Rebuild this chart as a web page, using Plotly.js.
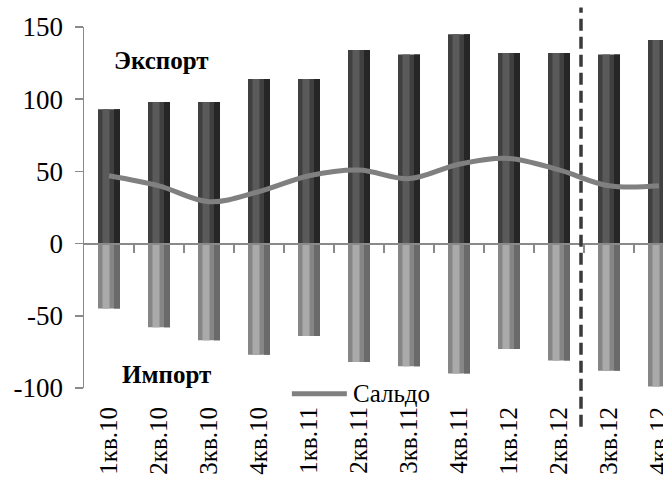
<!DOCTYPE html>
<html><head><meta charset="utf-8">
<script src="https://cdn.plot.ly/plotly-3.0.1.min.js"></script>
<style>html,body{margin:0;padding:0;background:#fff}</style>
</head><body><div id="chart" style="width:663px;height:482px"></div>
<script>
const categories = ['1кв.10','2кв.10','3кв.10','4кв.10','1кв.11','2кв.11','3кв.11','4кв.11','1кв.12','2кв.12','3кв.12','4кв.12'];
const exportValues = [93, 98, 98, 114, 114, 134, 131, 145, 132, 132, 131, 141];
const importValues = [-45, -58, -67, -77, -64, -82, -85, -90, -73, -81, -88, -99];
const saldoValues = [47, 40, 29, 36, 47, 51, 45, 55, 59, 51, 40, 40];
const yTickValues = [-100, -50, 0, 50, 100, 150];
const yTickLabels = yTickValues.map(v => String(v));
const saldoName = 'Сальдо';
const dividerAfter = '2кв.12';

const serif = 'Liberation Serif, Times New Roman, serif';
const yMin = -100, yMax = 150;
const xRange = [-0.5, 11.08];

function layer(values, offset, width, color) {
  return {type: 'bar', x: categories, y: values, offset: offset, width: width,
    marker: {color: color, line: {width: 0}}, showlegend: false, hoverinfo: 'skip'};
}

const traces = [
  layer(exportValues, -0.22, 0.44, '#404040'),
  layer(exportValues, -0.13, 0.14, '#5a5a5a'),
  layer(exportValues, 0.10, 0.12, '#262626'),
  layer(importValues, -0.22, 0.44, '#868686'),
  layer(importValues, -0.13, 0.14, '#aaaaaa'),
  layer(importValues, 0.10, 0.12, '#6a6a6a'),
  {type: 'scatter', mode: 'lines', x: categories, y: saldoValues, name: saldoName, showlegend: false,
    line: {color: '#808080', width: 5, shape: 'spline', smoothing: 1}, hoverinfo: 'skip'},
  {type: 'scatter', mode: 'lines', x: [], y: [], xaxis: 'x2', showlegend: false, hoverinfo: 'skip'}
];

const boundaries = categories.map((c, i) => i + 0.5);
const divX = categories.indexOf(dividerAfter) + 0.44;

const layout = {
  width: 663, height: 482,
  margin: {l: 84, r: 0, t: 27, b: 94, pad: 0},
  paper_bgcolor: '#fff', plot_bgcolor: 'rgba(0,0,0,0)',
  barmode: 'overlay',
  showlegend: false,
  font: {family: serif, color: '#000'},
  xaxis: {type: 'category', range: xRange, showline: false, showgrid: false, zeroline: false,
    ticks: '', tickangle: -90, ticklabelstandoff: 13,
    tickfont: {family: serif, size: 25, color: '#000'}},
  xaxis2: {type: 'linear', overlaying: 'x', anchor: 'free', position: (0 - yMin) / (yMax - yMin),
    range: xRange, showline: true, linecolor: '#8a8a8a', linewidth: 2,
    ticks: 'outside', ticklen: 8, tickwidth: 1.5, tickcolor: '#8a8a8a',
    tickvals: boundaries, showticklabels: false, showgrid: false, zeroline: false},
  yaxis: {range: [yMin, yMax], tickvals: yTickValues, ticktext: yTickLabels,
    showline: true, linecolor: '#8a8a8a', linewidth: 1.5,
    ticks: 'outside', ticklen: 8, tickwidth: 1.5, tickcolor: '#8a8a8a', ticklabelstandoff: 6,
    showgrid: false, zeroline: false, tickfont: {family: serif, size: 27, color: '#000'}},
  shapes: [
    {type: 'line', xref: 'x', yref: 'paper', x0: divX, x1: divX, y0: -0.107, y1: 1.054,
      line: {color: '#3a3a3a', width: 3.5, dash: '12px,6px'}, layer: 'above'},
    {type: 'line', xref: 'paper', yref: 'paper', x0: 0.359, x1: 0.454, y0: -0.016, y1: -0.016,
      line: {color: '#808080', width: 5}}
  ],
  annotations: [
    {text: '<b>Экспорт</b>', xref: 'paper', yref: 'paper', x: 0.133, y: 0.908, xanchor: 'center', yanchor: 'middle',
      showarrow: false, font: {family: serif, size: 25, color: '#000'}},
    {text: '<b>Импорт</b>', xref: 'paper', yref: 'paper', x: 0.142, y: 0.037, xanchor: 'center', yanchor: 'middle',
      showarrow: false, font: {family: serif, size: 25, color: '#000'}},
    {text: saldoName, xref: 'paper', yref: 'paper', x: 0.462, y: -0.016, xanchor: 'left', yanchor: 'middle',
      showarrow: false, font: {family: serif, size: 25, color: '#000'}}
  ]
};

Plotly.newPlot('chart', traces, layout, {staticPlot: true, displayModeBar: false});
</script></body></html>
